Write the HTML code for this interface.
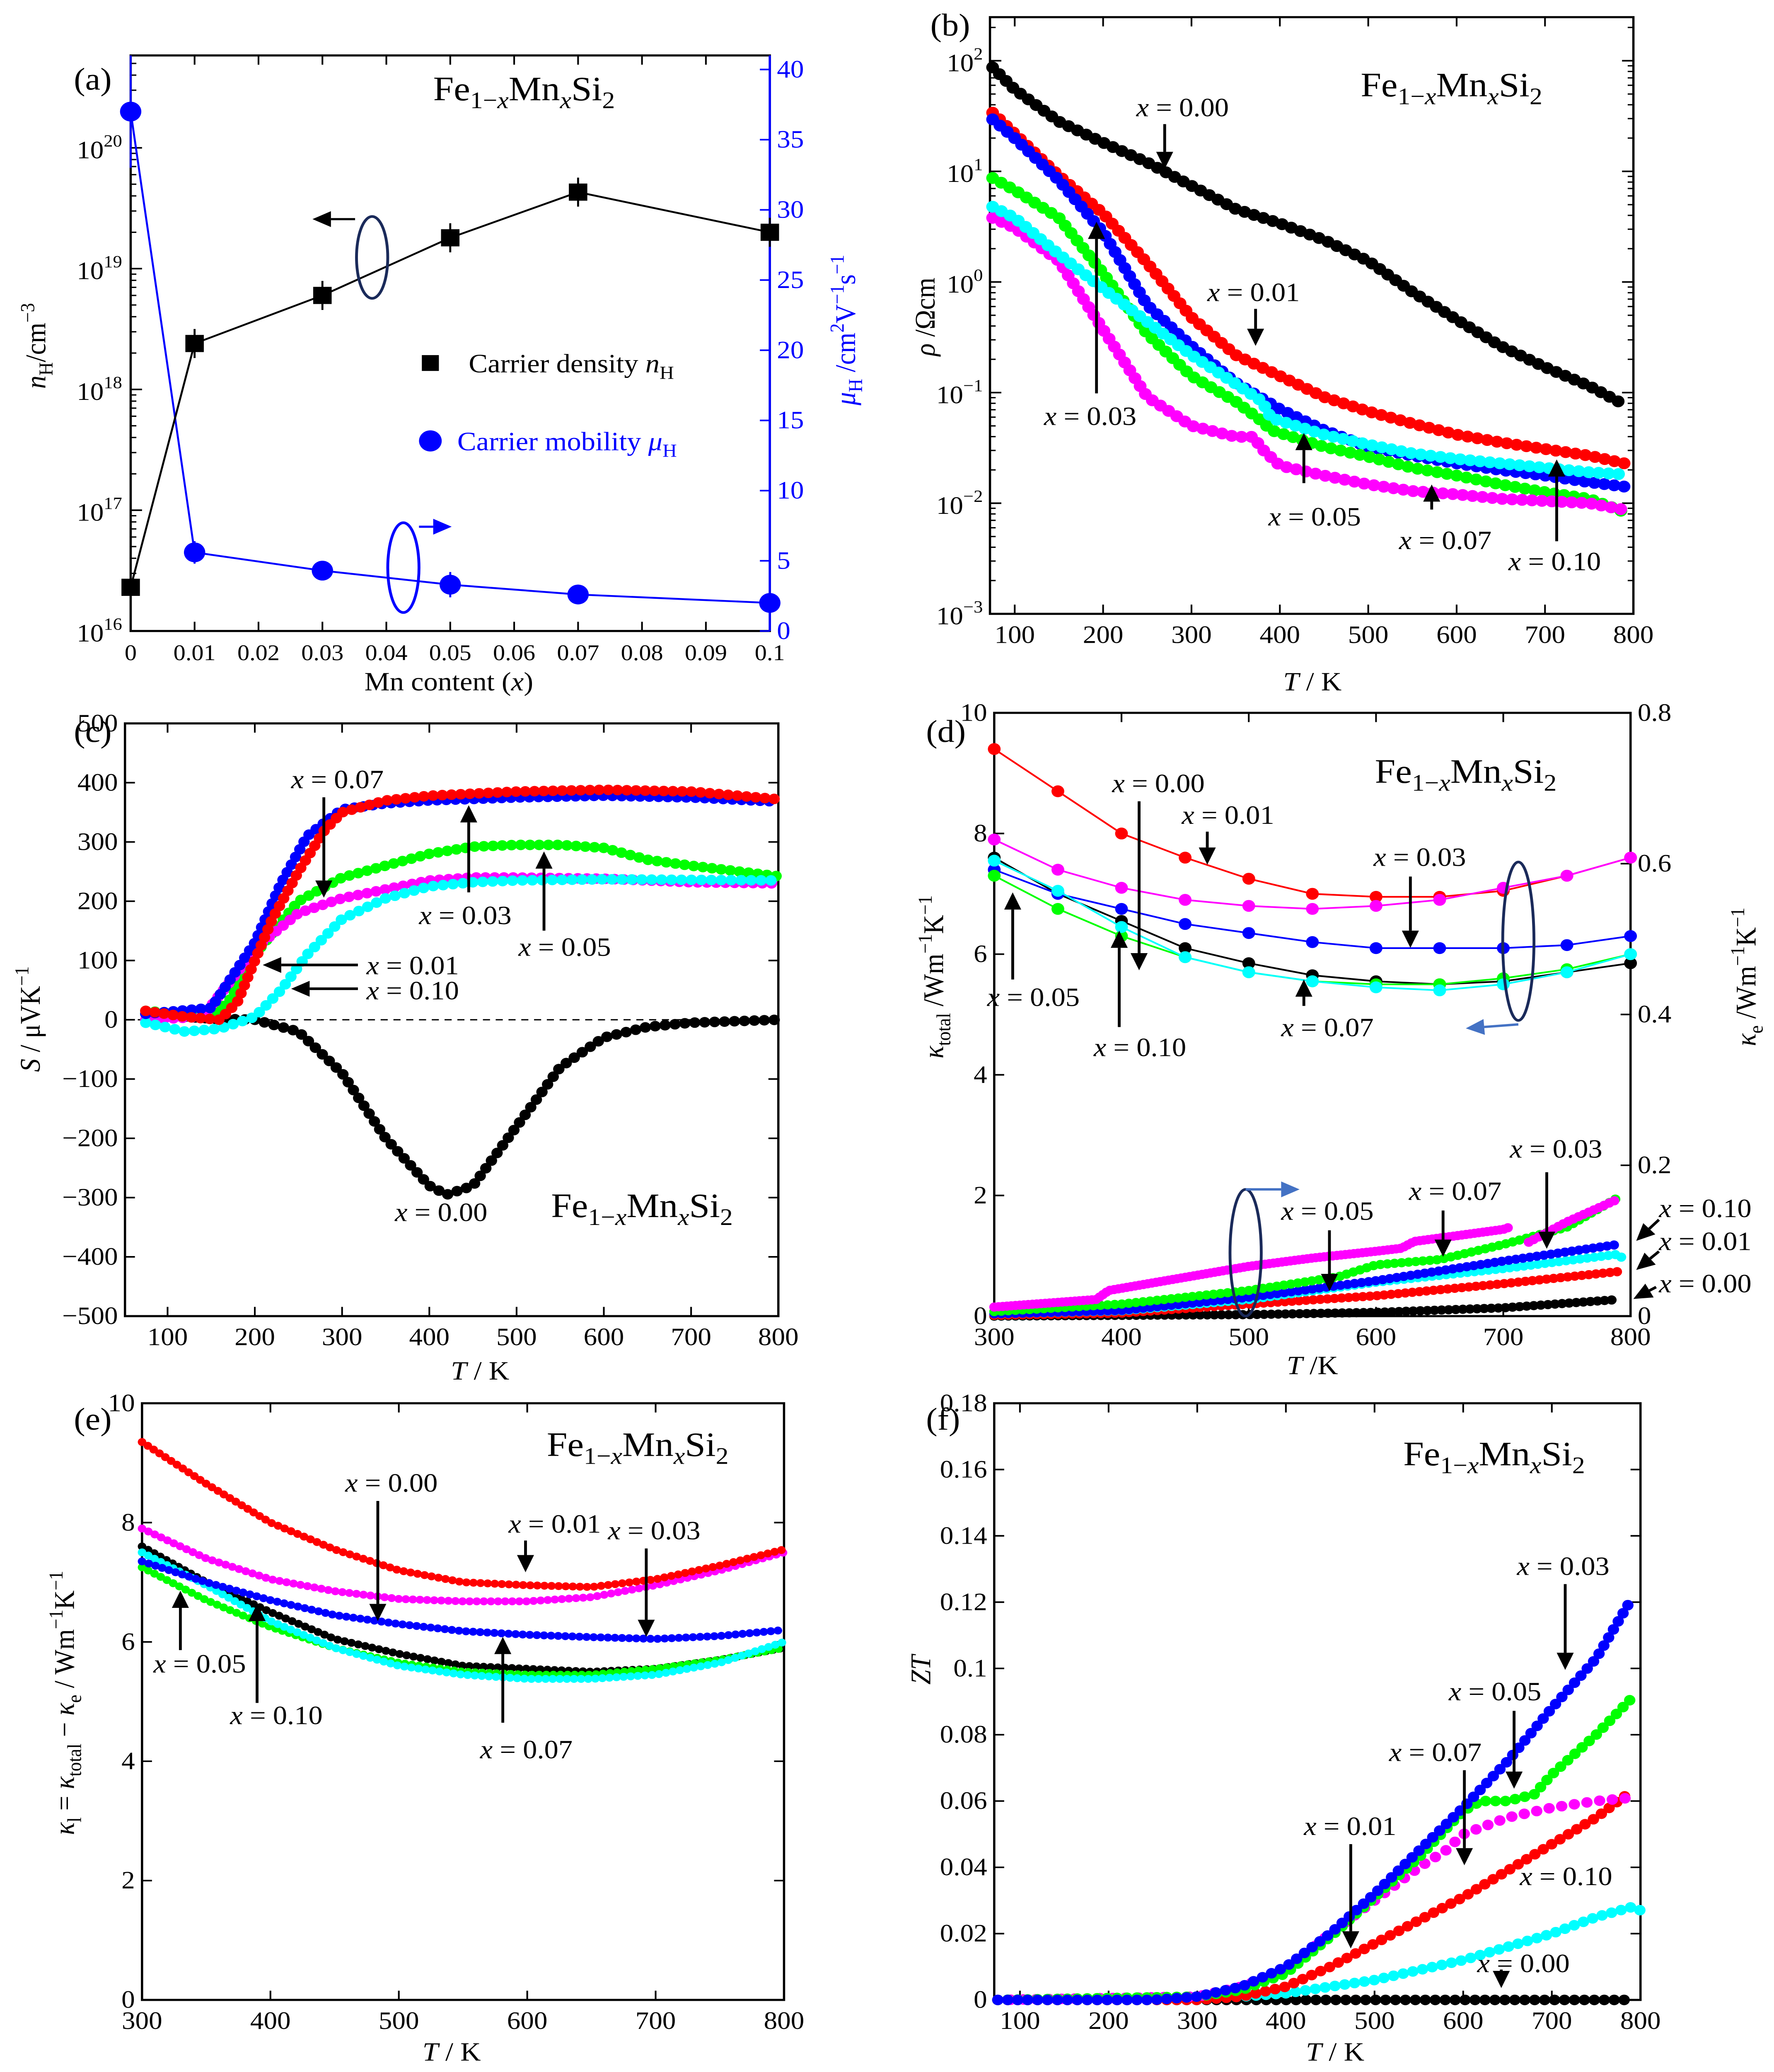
<!DOCTYPE html>
<html><head><meta charset="utf-8">
<style>
html,body{margin:0;padding:0;background:#fff;width:100%;height:100%;overflow:hidden;}
svg{display:block;position:absolute;left:0;top:0;width:100vw;height:100vh;font-family:"Liberation Serif",serif;}
</style></head>
<body>
<svg id="fig" xmlns="http://www.w3.org/2000/svg" viewBox="0 0 1249 1569.6" preserveAspectRatio="none"></svg>
<script>
// ---------- DATA ----------
// (a)
const aX = [0, 0.01, 0.03, 0.05, 0.07, 0.1];
const aDensity = [2.3e16, 2.4e18, 6e18, 1.8e19, 4.3e19, 2.0e19];
const aMobility = [37, 5.6, 4.3, 3.3, 2.6, 2.0];
const aMobErr = [4, 0.8, 0.5, 0.9, 0.7, 0.6];
// (b) log10 rho
const bT0 = [75,100,150,200,250,300,350,400,450,500,550,600,650,700,750,790];
const bRho000 = [1.94,1.74,1.45,1.26,1.08,0.87,0.66,0.53,0.38,0.19,-0.09,-0.34,-0.58,-0.77,-0.94,-1.11];
const bRho001 = [1.53,1.34,0.96,0.62,0.17,-0.32,-0.66,-0.85,-1.04,-1.17,-1.28,-1.38,-1.45,-1.51,-1.57,-1.64];
const bRho003 = [1.47,1.30,0.92,0.45,-0.21,-0.58,-0.91,-1.15,-1.34,-1.49,-1.57,-1.64,-1.70,-1.75,-1.81,-1.85];
const bT5 = [75,100,150,200,250,300,350,380,390,450,500,550,600,650,700,750,790];
const bRho005 = [0.94,0.83,0.58,0.08,-0.47,-0.85,-1.08,-1.26,-1.34,-1.49,-1.58,-1.68,-1.75,-1.83,-1.90,-1.96,-2.08];
const bRho010 = [0.68,0.58,0.25,-0.06,-0.36,-0.66,-0.92,-1.08,-1.23,-1.38,-1.47,-1.55,-1.60,-1.64,-1.68,-1.72,-1.74];
const bT7 = [75,100,150,200,250,300,350,370,380,400,450,500,550,600,650,700,750,790];
const bRho007 = [0.58,0.49,0.19,-0.43,-1.04,-1.30,-1.40,-1.40,-1.51,-1.66,-1.75,-1.83,-1.89,-1.92,-1.96,-1.98,-2.00,-2.06];
// (c)
const cT_000 = [75,150,200,250,300,350,400,420,450,500,550,600,650,700,800];
const cS_000 = [10,2,0,-20,-90,-200,-280,-295,-280,-180,-80,-30,-12,-5,0];
const cT_001 = [75,120,160,180,200,220,250,280,300,350,400,500,600,700,800];
const cS_001 = [15,5,0,30,100,170,250,320,350,370,378,385,388,385,372];
const cT_003 = [75,150,200,230,260,300,350,400,500,600,700,800];
const cS_003 = [10,20,130,230,310,355,365,370,375,378,375,368];
const cT_005 = [75,150,170,200,250,300,350,400,450,500,550,600,650,700,800];
const cS_005 = [15,5,30,110,200,240,260,280,292,295,295,290,270,260,242];
const cT_007 = [75,140,180,200,250,300,350,400,450,500,600,700,800];
const cS_007 = [0,5,80,120,180,205,220,235,240,240,238,232,230];
const cT_010 = [75,120,160,200,230,260,300,350,400,450,500,600,700,800];
const cS_010 = [-5,-20,-15,5,50,110,170,205,225,232,235,237,236,235];
// (d) top: kappa total
const dT = [300,350,400,450,500,550,600,650,700,750,800];
const dK000 = [7.6,7.0,6.55,6.1,5.85,5.65,5.55,5.5,5.55,5.7,5.85];
const dK001 = [9.4,8.7,8.0,7.6,7.25,7.0,6.95,6.95,7.05,7.3,7.6];
const dK003 = [7.4,7.0,6.75,6.5,6.35,6.2,6.1,6.1,6.1,6.15,6.3];
const dK005 = [7.3,6.75,6.3,5.95,5.7,5.55,5.5,5.5,5.6,5.75,6.0];
const dK007 = [7.9,7.4,7.1,6.9,6.8,6.75,6.8,6.9,7.1,7.3,7.6];
const dK010 = [7.55,7.05,6.45,5.95,5.7,5.55,5.45,5.4,5.5,5.7,6.0];
// (d) bottom: kappa electronic
const deT_000 = [300,500,600,700,790];
const deK000 = [0,0.002,0.005,0.011,0.022];
const deT_001 = [300,400,500,600,700,790];
const deK001 = [0.001,0.004,0.016,0.027,0.043,0.059];
const deT_003 = [300,400,500,600,700,790];
const deK003 = [0.003,0.0075,0.025,0.047,0.073,0.095];
const deT_005 = [300,400,500,570,600,650,700,750,790];
const deK005 = [0.006,0.016,0.034,0.052,0.068,0.075,0.095,0.118,0.157];
const deT_007a = [300,380,390,500,550,600,620,630,700,705];
const deK007a = [0.012,0.022,0.034,0.066,0.077,0.086,0.09,0.099,0.115,0.118];
const deT_007b = [720,750,790];
const deK007b = [0.098,0.125,0.155];
const deT_010 = [300,400,500,600,700,790,795];
const deK010 = [0.003,0.007,0.022,0.045,0.063,0.082,0.075];
// (e) kappa lattice
const eT = [300,350,400,450,500,550,600,650,700,750,800];
const eK000 = [7.6,7.0,6.5,6.05,5.8,5.6,5.55,5.5,5.55,5.7,5.9];
const eK001 = [9.35,8.65,8.0,7.55,7.2,7.0,6.95,6.92,7.05,7.28,7.55];
const eK003 = [7.35,7.0,6.7,6.45,6.3,6.18,6.12,6.08,6.05,6.1,6.2];
const eK005 = [7.25,6.7,6.25,5.9,5.65,5.5,5.45,5.45,5.55,5.7,5.9];
const eK007 = [7.9,7.4,7.05,6.85,6.72,6.68,6.68,6.75,6.95,7.2,7.5];
const eK010 = [7.5,6.95,6.35,5.9,5.6,5.45,5.38,5.38,5.45,5.65,6.0];
// (f) ZT
const fT_000 = [75,300,500,700,790];
const fZ000 = [0,0,0,0,0];
const fT_001 = [75,300,350,400,450,500,550,600,650,700,750,790];
const fZ001 = [0,0,0.001,0.004,0.01,0.017,0.024,0.031,0.039,0.047,0.055,0.063];
const fT_003 = [75,250,300,350,400,450,500,550,600,650,700,750,790];
const fZ003 = [0,0,0.001,0.004,0.01,0.02,0.032,0.045,0.058,0.072,0.088,0.103,0.121];
const fT_005 = [75,300,350,400,450,500,550,600,620,650,680,700,750,790];
const fZ005 = [0,0.001,0.003,0.008,0.019,0.031,0.043,0.057,0.06,0.06,0.062,0.068,0.08,0.091];
const fT_007 = [75,300,350,400,450,500,550,580,600,650,700,750,790];
const fZ007 = [0,0.001,0.004,0.009,0.02,0.03,0.04,0.045,0.05,0.055,0.058,0.06,0.061];
const fT_010 = [75,300,400,500,600,700,750,790,800];
const fZ010 = [0,0,0.002,0.006,0.012,0.02,0.025,0.028,0.027];

const COL = {k:'#000000', r:'#ff0000', b:'#0000ff', g:'#00ff00', m:'#ff00ff', c:'#00ffff'};
// ---------- HELPERS ----------
const NS = 'http://www.w3.org/2000/svg';
const svg = document.getElementById('fig');
function mk(tag, attrs, parent){
  const e = document.createElementNS(NS, tag);
  for (const k in attrs) e.setAttribute(k, attrs[k]);
  (parent||svg).appendChild(e);
  return e;
}
function lin(d0,d1,p0,p1){ return v => p0 + (v-d0)/(d1-d0)*(p1-p0); }
function logs(d0,d1,p0,p1){ return v => p0 + (Math.log10(v)-d0)/(d1-d0)*(p1-p0); }

function frame(g, L,R,T,B){
  const r = mk('rect',{x:L,y:T,width:R-L,height:B-T,fill:'none',stroke:'#000','stroke-width':1.6},g);
  
  
}
function xTicks(g, ticks, labels, sx, T, B, fs){
  ticks.forEach((v,i)=>{
    const x = sx(v);
    mk('line',{x1:x,y1:B,x2:x,y2:B-7,stroke:'#000','stroke-width':1.2},g);
    mk('line',{x1:x,y1:T,x2:x,y2:T+7,stroke:'#000','stroke-width':1.2},g);
    const t = mk('text',{x:x,y:B+22,'font-size':fs||19,'text-anchor':'middle'},g);
    t.textContent = labels[i];
    
    
  });
}
function yTicks(g, ticks, labels, sy, L, R, side, fs, color){
  ticks.forEach((v,i)=>{
    const y = sy(v);
    if(side!=='right') mk('line',{x1:L,y1:y,x2:L+7,y2:y,stroke:'#000','stroke-width':1.2},g);
    if(side!=='left') mk('line',{x1:R,y1:y,x2:R-7,y2:y,stroke:color||'#000','stroke-width':1.2},g);
    if(labels){
      const onR = side==='right';
      const t = mk('text',{x:onR?R+5:L-5,y:y+6,'font-size':fs||19,'text-anchor':onR?'start':'end',fill:color||'#000'},g);
      t.textContent = labels[i];
      
      
    }
  });
}
function logLabel(g, x, y, exp, anchor){
  const t = mk('text',{x:x,y:y,'font-size':19,'text-anchor':anchor||'end'},g);
  t.innerHTML = '10<tspan dy="-9" font-size="13">'+exp+'</tspan>';
  
  
}
function dotted(g, xs, ys, sx, sy, color, name, size, gap){
  const pts = xs.map((v,i)=>sx(v)+','+sy(ys[i])).join(' ');
  const p = mk('polyline',{points:pts,fill:'none',stroke:color,'stroke-width':size||8,'stroke-linecap':'round','stroke-linejoin':'round','stroke-dasharray':'0 '+(gap||6.5)},g);
  
  
  return p;
}
function line(g, xs, ys, sx, sy, color, name, w){
  const pts = xs.map((v,i)=>sx(v)+','+sy(ys[i])).join(' ');
  const p = mk('polyline',{points:pts,fill:'none',stroke:color,'stroke-width':w||1.4},g);
  
  
  return p;
}
function dots(g, xs, ys, sx, sy, color, name, r){
  const gg = mk('g',{},g);
  
  
  xs.forEach((v,i)=>{ mk('circle',{cx:sx(v),cy:sy(ys[i]),r:r||4.5,fill:color},gg); });
}
function arrow(g, x1,y1,x2,y2, color, w){
  const c = color||'#000';
  const dx=x2-x1, dy=y2-y1, len=Math.hypot(dx,dy), ux=dx/len, uy=dy/len;
  const hl=13, hw=6;
  const bx=x2-ux*hl, by=y2-uy*hl;
  mk('line',{x1:x1,y1:y1,x2:bx,y2:by,stroke:c,'stroke-width':w||2},g);
  const a = mk('polygon',{points:`${x2},${y2} ${bx-uy*hw},${by+ux*hw} ${bx+uy*hw},${by-ux*hw}`,fill:c},g);
  
  
}
function xlabel(g, x, y, val){
  const t = mk('text',{x:x,y:y,'font-size':20},g);
  t.innerHTML = '<tspan font-style="italic">x</tspan> = '+val;
  
  
}
function formula(g, x, y, fs){
  const t = mk('text',{x:x,y:y,'font-size':fs||26},g);
  t.innerHTML = 'Fe<tspan dy="6" font-size="18">1−<tspan font-style="italic">x</tspan></tspan><tspan dy="-6">Mn</tspan><tspan dy="6" font-size="18" font-style="italic">x</tspan><tspan dy="-6">Si</tspan><tspan dy="6" font-size="18">2</tspan>';
  
  
}
function text(g, x, y, html, opts, name){
  const t = mk('text',Object.assign({x:x,y:y,'font-size':20},opts||{}),g);
  t.innerHTML = html;
  
  
  return t;
}
function panelG(name){
  const g = mk('g',{});
  
  
  return g;
}
function ellipse(g,cx,cy,rx,ry,color){
  const e = mk('ellipse',{cx:cx,cy:cy,rx:rx,ry:ry,fill:'none',stroke:color,'stroke-width':2},g);
  
  
}

// ---------- PANEL A ----------
(function(){
  const g = panelG('panel-a');
  const L=92,R=542,T=42,B=478;
  const sx = lin(0,0.1,L,R);
  const sy = logs(16,20.765,B,T);
  const sy2 = lin(0,41.0,B,T);
  frame(g,L,R,T,B);
  const xt=[0,0.01,0.02,0.03,0.04,0.05,0.06,0.07,0.08,0.09,0.1];
  xTicks(g, xt, ['0','0.01','0.02','0.03','0.04','0.05','0.06','0.07','0.08','0.09','0.1'], sx, T, B, 17);
  [16,17,18,19,20].forEach(e=>{ const y=sy(Math.pow(10,e)); mk('line',{x1:L,y1:y,x2:L+8,y2:y,stroke:'#000','stroke-width':1.2},g); logLabel(g,L-6,y+8,e); });
  for(let e=16;e<21;e++) for(let m=2;m<10;m++){ const v=m*Math.pow(10,e); if(Math.log10(v)>20.76) continue; const y=sy(v); mk('line',{x1:L,y1:y,x2:L+4,y2:y,stroke:'#000','stroke-width':1},g); }
  const yt2=[0,5,10,15,20,25,30,35,40];
  yTicks(g, yt2, yt2.map(String), sy2, L, R, 'right', 19, '#0000ff');
  mk('line',{x1:R,y1:T,x2:R,y2:B,stroke:'#0000ff','stroke-width':1.6},g);
  line(g, aX, aMobility, sx, sy2, '#0000ff','mobility-line',1.4);
  aX.forEach((v,i)=>{ mk('line',{x1:sx(v),y1:sy2(aMobility[i]-aMobErr[i]),x2:sx(v),y2:sy2(aMobility[i]+aMobErr[i]),stroke:'#0000ff','stroke-width':1.4},g); });
  dots(g, aX, aMobility, sx, sy2, '#0000ff','mobility-points',7.5);
  line(g, aX, aDensity, sx, sy, '#000','density-line',1.4);
  const gd = mk('g',{},g);
  
  
  aX.forEach((v,i)=>{ const x=sx(v), y=sy(aDensity[i]);
    mk('line',{x1:x,y1:y-11,x2:x,y2:y+11,stroke:'#000','stroke-width':1.4},gd);
    mk('rect',{x:x-6.5,y:y-6.5,width:13,height:13,fill:'#000'},gd); });
  text(g,52,68,'(a)',{'font-size':24},'panel-label-a');
  formula(g,305,76);
  mk('rect',{x:297,y:269,width:12,height:12,fill:'#000'},g);
  text(g,330,282,'Carrier density <tspan font-style="italic">n</tspan><tspan dy="5" font-size="14">H</tspan>',{},'legend-density');
  mk('circle',{cx:303,cy:334,r:8,fill:'#0000ff'},g);
  text(g,322,341,'Carrier mobility <tspan font-style="italic">μ</tspan><tspan dy="5" font-size="14">H</tspan>',{fill:'#0000ff'},'legend-mobility');
  ellipse(g,262,195,11,31,'#1a2a5a');
  arrow(g,250,166,220,166,'#000',1.6);
  ellipse(g,284,430,11,34,'#0000ff');
  arrow(g,295,399,318,399,'#0000ff',1.6);
  text(g,316,523,'Mn content (<tspan font-style="italic">x</tspan>)',{'font-size':20,'text-anchor':'middle'},'x-axis-title-a');
  text(g,0,0,'<tspan font-style="italic">n</tspan><tspan dy="5" font-size="14">H</tspan><tspan dy="-5">/cm</tspan><tspan dy="-8" font-size="14">−3</tspan>',{'font-size':20,'text-anchor':'middle',transform:'translate(32,262) rotate(-90)'},'y-axis-title-a');
  text(g,0,0,'<tspan font-style="italic">μ</tspan><tspan dy="5" font-size="14">H</tspan><tspan dy="-5"> /cm</tspan><tspan dy="-8" font-size="14">2</tspan><tspan dy="8">V</tspan><tspan dy="-8" font-size="14">−1</tspan><tspan dy="8">s</tspan><tspan dy="-8" font-size="14">−1</tspan>',{'font-size':20,'text-anchor':'middle',fill:'#0000ff',transform:'translate(602,250) rotate(-90)'},'y-axis-title-a-right');
})();

// ---------- PANEL B ----------
(function(){
  const g = panelG('panel-b');
  const L=697,R=1150,T=13,B=465;
  const sx = lin(72,800,L,R);
  const syl = lin(-3,2.394,B,T);
  frame(g,L,R,T,B);
  const bx=[100,200,300,400,500,600,700,800];
  xTicks(g,bx,bx.map(String),sx,T,B,19);
  [-3,-2,-1,0,1,2].forEach(e=>{ const y=syl(e); mk('line',{x1:L,y1:y,x2:L+8,y2:y,stroke:'#000','stroke-width':1.2},g); mk('line',{x1:R,y1:y,x2:R-8,y2:y,stroke:'#000','stroke-width':1.2},g); logLabel(g,L-5,y+8,e<0?'−'+(-e):String(e)); });
  for(let e=-3;e<3;e++) for(let m=2;m<10;m++){ const lv=e+Math.log10(m); if(lv>2.39) continue; const y=syl(lv); mk('line',{x1:L,y1:y,x2:L+4,y2:y,stroke:'#000','stroke-width':1},g); mk('line',{x1:R,y1:y,x2:R-4,y2:y,stroke:'#000','stroke-width':1},g); }
  dotted(g,bT0,bRho000,sx,syl,COL.k,'series-b-x000',9,7);
  dotted(g,bT0,bRho001,sx,syl,COL.r,'series-b-x001',9,7);
  dotted(g,bT0,bRho003,sx,syl,COL.b,'series-b-x003',9,7);
  dotted(g,bT5,bRho005,sx,syl,COL.g,'series-b-x005',9,7);
  dotted(g,bT7,bRho007,sx,syl,COL.m,'series-b-x007',9,7);
  dotted(g,bT5,bRho010,sx,syl,COL.c,'series-b-x010',9,7);
  text(g,655,27,'(b)',{'font-size':24},'panel-label-b');
  formula(g,958,73);
  xlabel(g,800,88,'0.00'); arrow(g,820,94,820,128);
  xlabel(g,850,228,'0.01'); arrow(g,884,234,884,262);
  xlabel(g,735,322,'0.03'); arrow(g,772,298,772,168);
  xlabel(g,893,398,'0.05'); arrow(g,918,366,918,328);
  xlabel(g,985,416,'0.07'); arrow(g,1008,386,1008,367);
  xlabel(g,1062,432,'0.10'); arrow(g,1096,410,1096,348);
  text(g,924,523,'<tspan font-style="italic">T</tspan> / K',{'text-anchor':'middle'},'x-axis-title-b');
  text(g,0,0,'<tspan font-style="italic">ρ</tspan> /Ωcm',{'text-anchor':'middle',transform:'translate(658,240) rotate(-90)'},'y-axis-title-b');
})();

// ---------- PANEL C ----------
(function(){
  const g = panelG('panel-c');
  const L=88,R=548,T=548,B=997;
  const sx = lin(51.2,800,L,R);
  const sy = lin(-500,500,B,T);
  frame(g,L,R,T,B);
  const bx=[100,200,300,400,500,600,700,800];
  xTicks(g,bx,bx.map(String),sx,T,B,19);
  const cy=[-500,-400,-300,-200,-100,0,100,200,300,400,500];
  yTicks(g,cy,cy.map(v=>v<0?'−'+(-v):String(v)),sy,L,R,'both',19);
  const z = mk('line',{x1:L,y1:sy(0),x2:R,y2:sy(0),stroke:'#000','stroke-width':1,'stroke-dasharray':'5 4'},g);
  
  
  dotted(g,cT_000,cS_000,sx,sy,COL.k,'series-c-x000',8,7);
  dotted(g,cT_005,cS_005,sx,sy,COL.g,'series-c-x005',8,6.5);
  dotted(g,cT_007,cS_007,sx,sy,COL.m,'series-c-x007',8,6.5);
  dotted(g,cT_010,cS_010,sx,sy,COL.c,'series-c-x010',8,7);
  dotted(g,cT_003,cS_003,sx,sy,COL.b,'series-c-x003',8,6.5);
  dotted(g,cT_001,cS_001,sx,sy,COL.r,'series-c-x001',8,6.5);
  text(g,52,562,'(c)',{'font-size':24},'panel-label-c');
  formula(g,388,922);
  xlabel(g,205,597,'0.07'); arrow(g,228,604,228,680);
  xlabel(g,295,700,'0.03'); arrow(g,330,676,330,610);
  xlabel(g,365,724,'0.05'); arrow(g,383,705,383,645);
  xlabel(g,258,738,'0.01'); arrow(g,252,731,185,731);
  xlabel(g,258,757,'0.10'); arrow(g,252,749,205,749);
  xlabel(g,278,925,'0.00');
  text(g,338,1045,'<tspan font-style="italic">T</tspan> / K',{'text-anchor':'middle'},'x-axis-title-c');
  text(g,0,0,'<tspan font-style="italic">S</tspan> / μVK<tspan dy="-8" font-size="14">−1</tspan>',{'text-anchor':'middle',transform:'translate(28,772) rotate(-90)'},'y-axis-title-c');
})();

// ---------- PANEL D ----------
(function(){
  const g = panelG('panel-d');
  const L=700,R=1148,T=540,B=997;
  const sx = lin(300,800,L,R);
  const sy = lin(0,10,B,T);
  const sy2 = lin(0,0.8,B,T);
  frame(g,L,R,T,B);
  const dx=[300,400,500,600,700,800];
  xTicks(g,dx,dx.map(String),sx,T,B,19);
  yTicks(g,[0,2,4,6,8,10],['0','2','4','6','8','10'],sy,L,R,'left',19);
  yTicks(g,[0,0.2,0.4,0.6,0.8],['0','0.2','0.4','0.6','0.8'],sy2,L,R,'right',19);
  [['k',dK000],['r',dK001],['b',dK003],['g',dK005],['m',dK007],['c',dK010]].forEach(([c,arr])=>{
    line(g,dT,arr,sx,sy,COL[c],'fit-d-'+c,1.3);
    dots(g,dT,arr,sx,sy,COL[c],'points-d-'+c,4.5);
  });
  dotted(g,deT_000,deK000,sx,sy2,COL.k,'ke-x000',7,5);
  dotted(g,deT_001,deK001,sx,sy2,COL.r,'ke-x001',7,5);
  dotted(g,deT_010,deK010,sx,sy2,COL.c,'ke-x010',7,5);
  dotted(g,deT_003,deK003,sx,sy2,COL.b,'ke-x003',7,5);
  dotted(g,deT_005,deK005,sx,sy2,COL.g,'ke-x005',7,5);
  dotted(g,deT_007a,deK007a,sx,sy2,COL.m,'ke-x007a',7,3);
  dotted(g,deT_007b,deK007b,sx,sy2,COL.m,'ke-x007b',7,4);
  text(g,652,562,'(d)',{'font-size':24},'panel-label-d');
  formula(g,968,593);
  xlabel(g,783,600,'0.00'); arrow(g,802,607,802,735);
  xlabel(g,832,624,'0.01'); arrow(g,850,630,850,655);
  xlabel(g,967,656,'0.03'); arrow(g,993,664,993,718);
  xlabel(g,695,762,'0.05'); arrow(g,713,742,713,676);
  xlabel(g,770,800,'0.10'); arrow(g,788,778,788,705);
  xlabel(g,902,785,'0.07'); arrow(g,918,762,918,742);
  ellipse(g,1069,713,11,60,'#1a2a5a');
  arrow(g,1069,776,1032,779,'#4472c4',1.8);
  ellipse(g,877,949,11,48,'#1a2a5a');
  arrow(g,877,901,915,901,'#4472c4',1.8);
  xlabel(g,1063,877,'0.03'); arrow(g,1089,888,1089,946);
  xlabel(g,992,909,'0.07'); arrow(g,1016,917,1016,952);
  xlabel(g,902,924,'0.05'); arrow(g,936,932,936,978);
  xlabel(g,1168,922,'0.10'); arrow(g,1168,924,1152,940);
  xlabel(g,1168,947,'0.01'); arrow(g,1168,948,1152,962);
  xlabel(g,1168,979,'0.00'); arrow(g,1166,975,1150,984);
  text(g,924,1041,'<tspan font-style="italic">T</tspan> /K',{'text-anchor':'middle'},'x-axis-title-d');
  text(g,0,0,'<tspan font-style="italic">κ</tspan><tspan dy="5" font-size="14">total</tspan><tspan dy="-5"> /Wm</tspan><tspan dy="-8" font-size="14">−1</tspan><tspan dy="8">K</tspan><tspan dy="-8" font-size="14">−1</tspan>',{'text-anchor':'middle',transform:'translate(664,740) rotate(-90)'},'y-axis-title-d');
  text(g,0,0,'<tspan font-style="italic">κ</tspan><tspan dy="5" font-size="14">e</tspan><tspan dy="-5"> /Wm</tspan><tspan dy="-8" font-size="14">−1</tspan><tspan dy="8">K</tspan><tspan dy="-8" font-size="14">−1</tspan>',{'text-anchor':'middle',transform:'translate(1236,740) rotate(-90)'},'y-axis-title-d-right');
})();

// ---------- PANEL E ----------
(function(){
  const g = panelG('panel-e');
  const L=100,R=552,T=1063,B=1515;
  const sx = lin(300,800,L,R);
  const sy = lin(0,10,B,T);
  frame(g,L,R,T,B);
  const dx=[300,400,500,600,700,800];
  xTicks(g,dx,dx.map(String),sx,T,B,19);
  yTicks(g,[0,2,4,6,8,10],['0','2','4','6','8','10'],sy,L,R,'both',19);
  dotted(g,eT,eK000,sx,sy,COL.k,'series-e-x000',6,5);
  dotted(g,eT,eK005,sx,sy,COL.g,'series-e-x005',6,5);
  dotted(g,eT,eK010,sx,sy,COL.c,'series-e-x010',6,5);
  dotted(g,eT,eK003,sx,sy,COL.b,'series-e-x003',6,5);
  dotted(g,eT,eK007,sx,sy,COL.m,'series-e-x007',6,5);
  dotted(g,eT,eK001,sx,sy,COL.r,'series-e-x001',6,5);
  text(g,52,1083,'(e)',{'font-size':24},'panel-label-e');
  formula(g,385,1103);
  xlabel(g,243,1130,'0.00'); arrow(g,266,1137,266,1228);
  xlabel(g,358,1161,'0.01'); arrow(g,370,1167,370,1191);
  xlabel(g,428,1166,'0.03'); arrow(g,455,1173,455,1240);
  xlabel(g,108,1267,'0.05'); arrow(g,127,1250,127,1205);
  xlabel(g,162,1306,'0.10'); arrow(g,181,1290,181,1215);
  xlabel(g,338,1332,'0.07'); arrow(g,354,1305,354,1240);
  text(g,318,1561,'<tspan font-style="italic">T</tspan> / K',{'text-anchor':'middle'},'x-axis-title-e');
  text(g,0,0,'<tspan font-style="italic">κ</tspan><tspan dy="5" font-size="14">l</tspan><tspan dy="-5"> = </tspan><tspan font-style="italic">κ</tspan><tspan dy="5" font-size="14">total</tspan><tspan dy="-5"> − </tspan><tspan font-style="italic">κ</tspan><tspan dy="5" font-size="14">e</tspan><tspan dy="-5"> / Wm</tspan><tspan dy="-8" font-size="14">−1</tspan><tspan dy="8">K</tspan><tspan dy="-8" font-size="14">−1</tspan>',{'text-anchor':'middle',transform:'translate(52,1290) rotate(-90)'},'y-axis-title-e');
})();

// ---------- PANEL F ----------
(function(){
  const g = panelG('panel-f');
  const L=700,R=1155,T=1063,B=1515;
  const sx = lin(71,800,L,R);
  const sy = lin(0,0.18,B,T);
  frame(g,L,R,T,B);
  const bx=[100,200,300,400,500,600,700,800];
  xTicks(g,bx,bx.map(String),sx,T,B,19);
  const fy=[0,0.02,0.04,0.06,0.08,0.1,0.12,0.14,0.16,0.18];
  yTicks(g,fy,['0','0.02','0.04','0.06','0.08','0.1','0.12','0.14','0.16','0.18'],sy,L,R,'both',19);
  dotted(g,fT_000,fZ000,sx,sy,COL.k,'series-f-x000',8,7);
  dotted(g,fT_010,fZ010,sx,sy,COL.c,'series-f-x010',8,7);
  dotted(g,fT_001,fZ001,sx,sy,COL.r,'series-f-x001',8,7);
  dotted(g,fT_007,fZ007,sx,sy,COL.m,'series-f-x007',8,9);
  dotted(g,fT_005,fZ005,sx,sy,COL.g,'series-f-x005',8,7);
  dotted(g,fT_003,fZ003,sx,sy,COL.b,'series-f-x003',8,7);
  text(g,652,1083,'(f)',{'font-size':24},'panel-label-f');
  formula(g,988,1110);
  xlabel(g,1068,1193,'0.03'); arrow(g,1102,1200,1102,1265);
  xlabel(g,1020,1288,'0.05'); arrow(g,1066,1296,1066,1355);
  xlabel(g,978,1334,'0.07'); arrow(g,1031,1341,1031,1413);
  xlabel(g,918,1390,'0.01'); arrow(g,951,1397,951,1476);
  xlabel(g,1070,1428,'0.10');
  xlabel(g,1040,1494,'0.00'); arrow(g,1057,1492,1057,1506);
  text(g,940,1561,'<tspan font-style="italic">T</tspan> / K',{'text-anchor':'middle'},'x-axis-title-f');
  text(g,0,0,'<tspan font-style="italic">ZT</tspan>',{'text-anchor':'middle',transform:'translate(655,1265) rotate(-90)'},'y-axis-title-f');
})();
</script>
</body></html>
